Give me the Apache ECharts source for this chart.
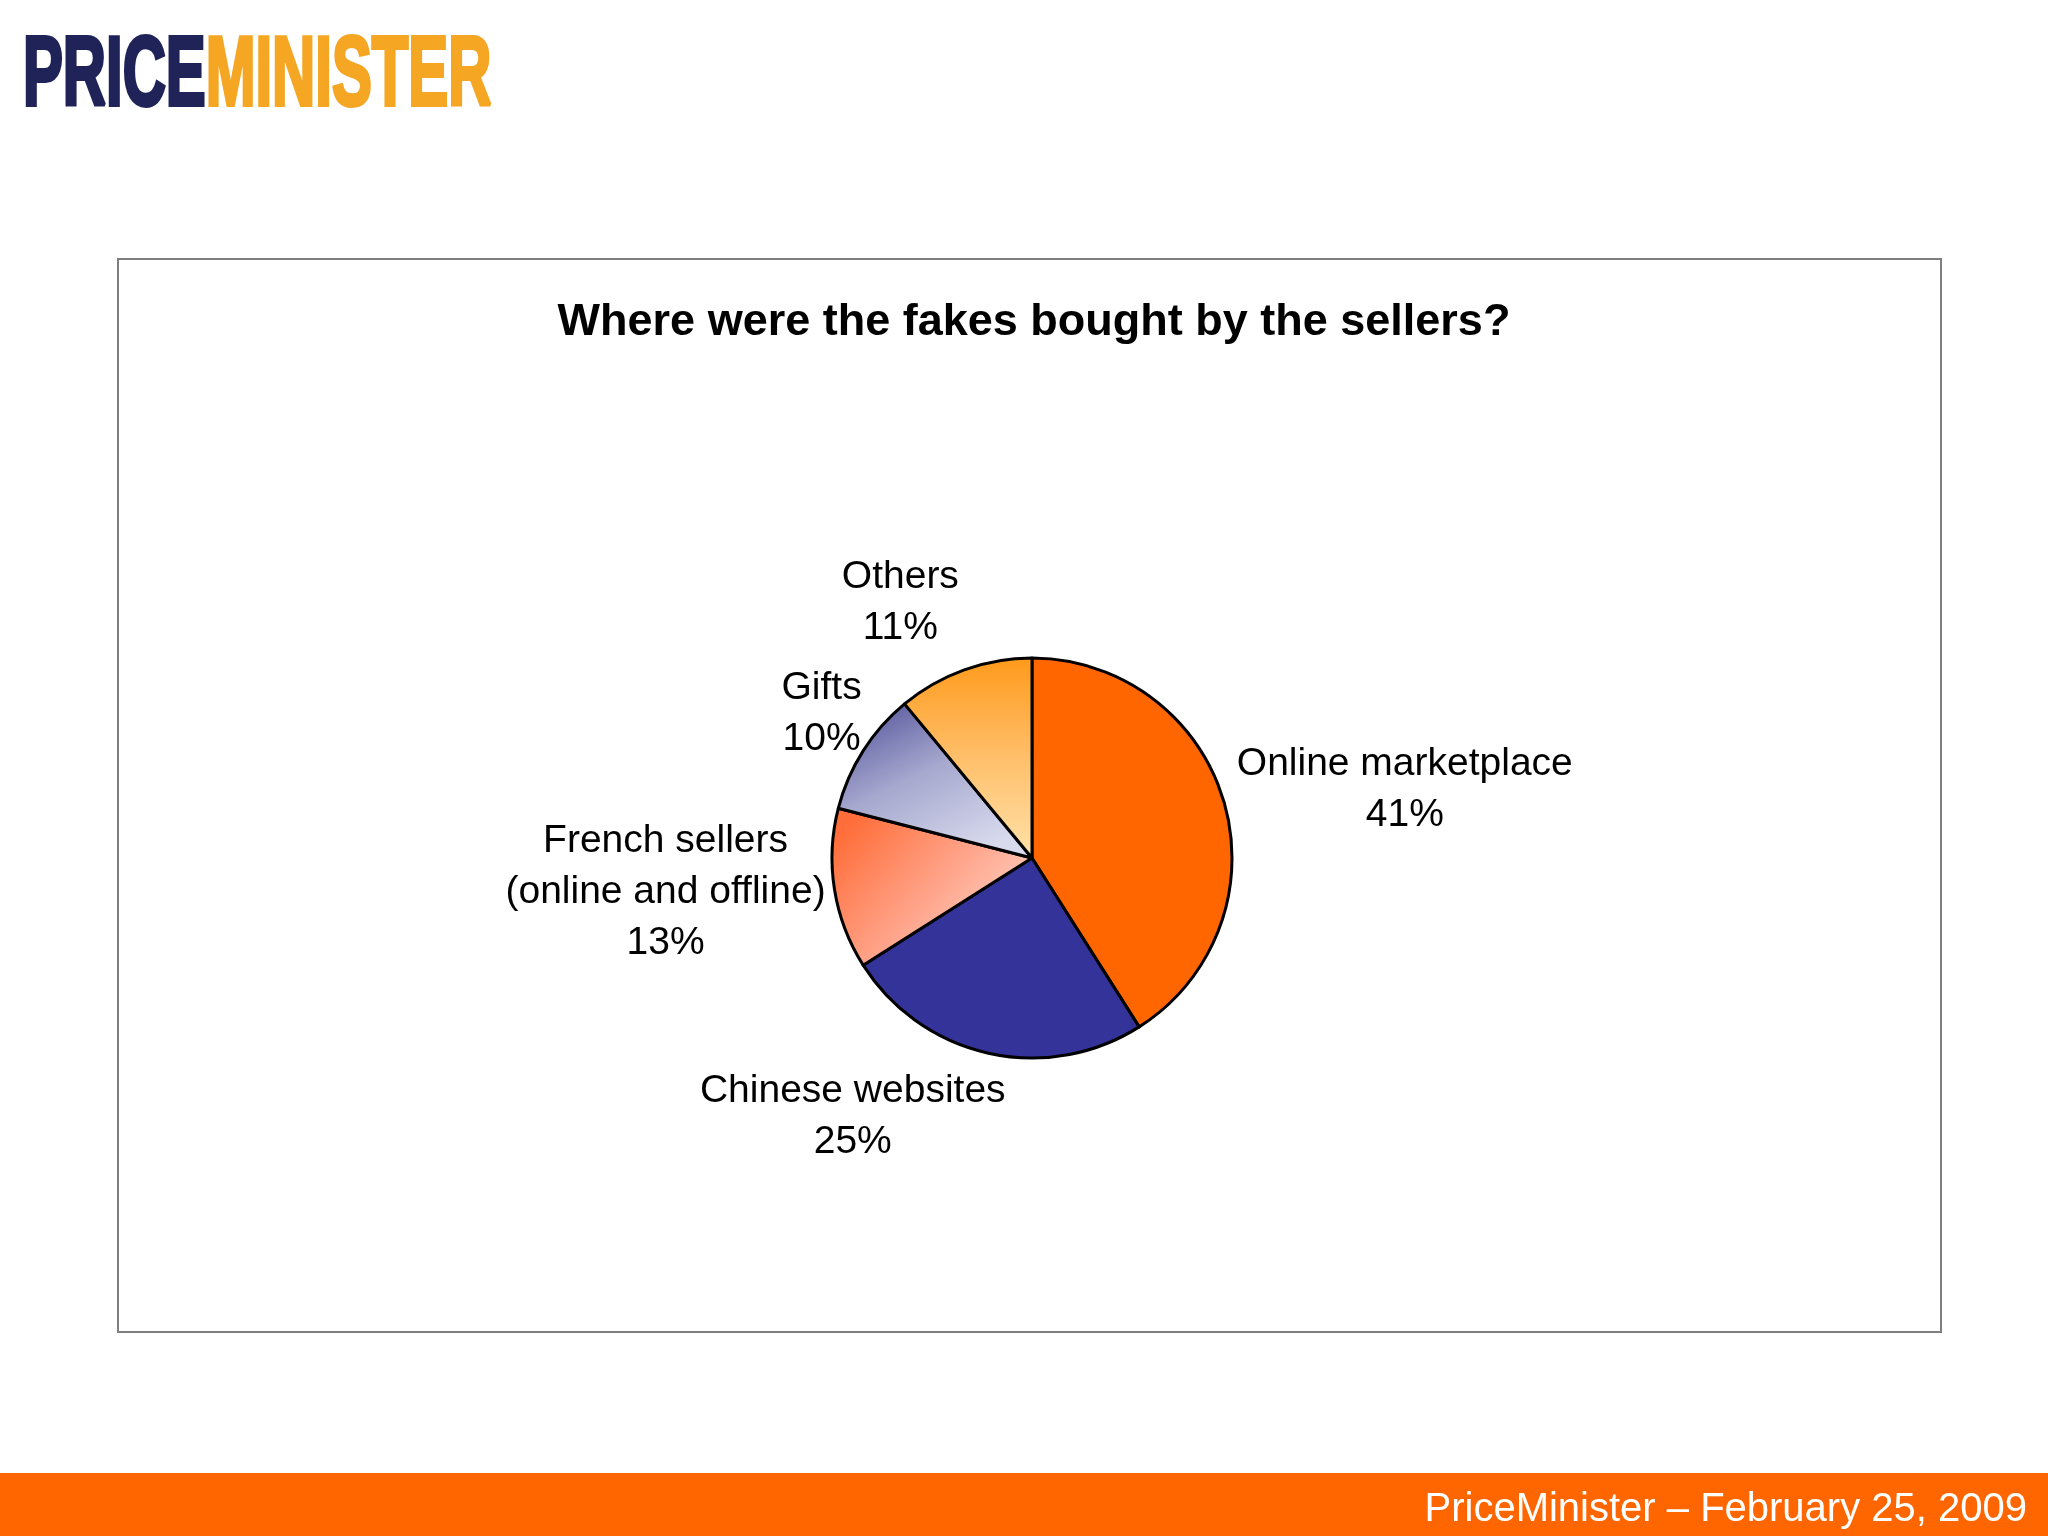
<!DOCTYPE html>
<html>
<head>
<meta charset="utf-8">
<title>Where were the fakes bought by the sellers?</title>
<script src="https://cdn.jsdelivr.net/npm/echarts@6/dist/echarts.min.js"></script>
<style>
  html, body { margin: 0; padding: 0; background: #ffffff; }
  #chart { width: 2048px; height: 1536px; }
</style>
</head>
<body>
<div id="chart"></div>
<script>
// ---- data ----
const categories = ['Online marketplace', 'Chinese websites', 'French sellers\n(online and offline)', 'Gifts', 'Others'];
const shares = [41, 25, 13, 10, 11];
const chartTitle = 'Where were the fakes bought by the sellers?';
const footerText = 'PriceMinister \u2013 February 25, 2009';

// ---- style ----
const W = 2048, H = 1536;
const pieCenter = [1032, 858];
const pieRadius = 200;
const labelGap = 15;
const labelNudge = [[5, 6], [-99, -1], [4, -11], [5, -2], [-39, -5]];
const FONT = '"Liberation Sans", Arial, Helvetica, sans-serif';

const sliceColors = [
  '#FF6600',
  '#333399',
  new echarts.graphic.LinearGradient(0.1, 0.1, 0.9, 1, [
    { offset: 0, color: '#FF6E3A' },
    { offset: 0.5, color: '#FFA58C' },
    { offset: 1, color: '#FFE0D6' }
  ]),
  new echarts.graphic.LinearGradient(0.25, 0, 0.65, 1, [
    { offset: 0, color: '#5E5EA2' },
    { offset: 0.45, color: '#A6A8CE' },
    { offset: 1, color: '#D8DAEE' }
  ]),
  new echarts.graphic.LinearGradient(0, 0, 0, 1, [
    { offset: 0, color: '#FF9A1A' },
    { offset: 0.5, color: '#FFBF6A' },
    { offset: 1, color: '#FFE2AA' }
  ])
];

const total = shares.reduce((a, b) => a + b, 0);
const midAngles = [];
{
  let acc = 0;
  shares.forEach(v => { midAngles.push((acc + v / 2) / total * 2 * Math.PI); acc += v; });
}

const chart = echarts.init(document.getElementById('chart'), null, { renderer: 'canvas', width: W, height: H });

const option = {
  backgroundColor: '#ffffff',
  animation: false,
  title: {
    text: chartTitle,
    left: 1029,
    top: 295,
    textAlign: 'center',
    textStyle: { fontFamily: FONT, fontWeight: 'bold', fontSize: 45, color: '#000000' }
  },
  graphic: [
    {
      type: 'rect',
      shape: { x: 118, y: 259, width: 1823, height: 1073 },
      style: { fill: 'none', stroke: '#7f7f7f', lineWidth: 2 },
      z: -1
    },
    {
      type: 'rect',
      shape: { x: 0, y: 1473, width: W, height: H - 1473 },
      style: { fill: '#FF6600' }
    },
    {
      type: 'text',
      x: 2027, y: 1510,
      style: {
        text: footerText,
        fill: '#ffffff',
        font: '40px ' + FONT,
        textAlign: 'right',
        textVerticalAlign: 'middle'
      }
    },
    {
      type: 'text',
      x: 23, y: 29,
      scaleX: 0.61,
      style: {
        text: '{a|PRICE}{b|MINISTER}',
        font: 'bold 98px ' + FONT,
        textVerticalAlign: 'top',
        rich: {
          a: { fill: '#1F2358', font: 'bold 98px ' + FONT, stroke: '#1F2358', lineWidth: 4 },
          b: { fill: '#F5A623', font: 'bold 98px ' + FONT, stroke: '#F5A623', lineWidth: 4 }
        }
      }
    }
  ],
  series: [{
    type: 'pie',
    center: pieCenter,
    radius: pieRadius,
    startAngle: 90,
    clockwise: true,
    avoidLabelOverlap: false,
    data: categories.map((name, i) => ({
      name: name,
      value: shares[i],
      itemStyle: { color: sliceColors[i] }
    })),
    itemStyle: { borderColor: '#000000', borderWidth: 3 },
    label: {
      show: true,
      position: 'outside',
      formatter: p => p.name + '\n' + p.value + '%',
      fontFamily: FONT,
      fontSize: 39,
      lineHeight: 51,
      color: '#000000',
      align: 'center'
    },
    labelLine: { show: false },
    emphasis: { disabled: true },
    labelLayout: function (params) {
      const i = params.dataIndex;
      const a = midAngles[i];
      const ux = Math.sin(a), uy = -Math.cos(a);
      const w = params.labelRect.width, h = params.labelRect.height;
      const d = pieRadius + labelGap;
      const cx = pieCenter[0] + ux * d + ux * w / 2 + labelNudge[i][0];
      const cy = pieCenter[1] + uy * d + uy * h / 2 + labelNudge[i][1];
      return { x: cx, y: cy, align: 'center', verticalAlign: 'middle' };
    }
  }]
};

chart.setOption(option);
</script>
</body>
</html>
